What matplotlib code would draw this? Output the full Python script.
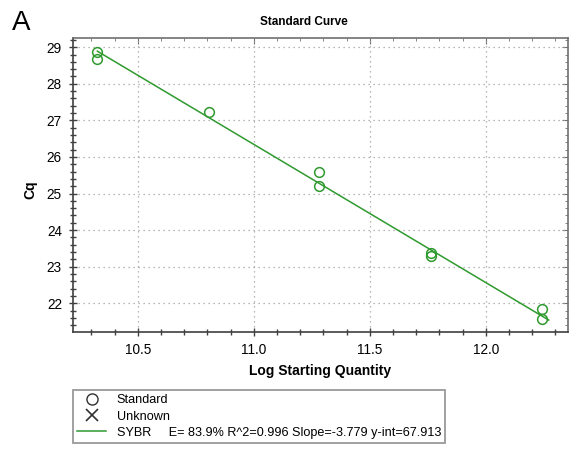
import numpy as np
import matplotlib
matplotlib.use("Agg")
import matplotlib.pyplot as plt
from matplotlib.lines import Line2D
from matplotlib.ticker import MultipleLocator

plt.rcParams['font.family'] = ['Liberation Sans', 'DejaVu Sans']

# standard wells: log starting quantity vs Cq
log_qty = [10.326, 10.326, 10.805, 11.283, 11.283, 11.762, 11.762, 12.241, 12.241]
cq = [28.88, 28.67, 27.24, 25.60, 25.21, 23.38, 23.30, 21.84, 21.56]

# fit reported by the instrument
slope = -3.779
y_int = 67.913
efficiency = 83.9
r2 = 0.996
fit_label = "SYBR     E= %.1f%% R^2=%.3f Slope=%.3f y-int=%.3f" % (efficiency, r2, slope, y_int)

green = '#2f9a2f'
spine_col = '#404040'

W, H = 571, 450
fig = plt.figure(figsize=(W / 100, H / 100), dpi=100)
ax = fig.add_axes([73 / W, 1 - 332 / H, 495 / W, 294.3 / H])

ax.plot(log_qty, cq, 'o', mfc='none', mec=green, ms=7, mew=1.1, zorder=3)
xl = np.array([min(log_qty), max(log_qty) + 0.03])
ax.plot(xl, slope * xl + y_int, color=green, lw=1.1, zorder=2)

ax.set_xlim(10.221, 12.354)
ax.set_ylim(21.215, 29.26)
ax.xaxis.set_major_locator(MultipleLocator(0.5))
ax.xaxis.set_minor_locator(MultipleLocator(0.1))
ax.yaxis.set_major_locator(MultipleLocator(1))
ax.yaxis.set_minor_locator(MultipleLocator(0.2))
ax.xaxis.set_major_formatter(plt.FormatStrFormatter('%.1f'))

ax.grid(True, which='major', color='#a0a0a0', linestyle=(0, (1, 3)), lw=0.9)
ax.tick_params(which='major', direction='inout', length=6, width=1, color=spine_col,
               labelsize=9.8, pad=5)
ax.tick_params(which='minor', direction='inout', length=4, width=1, color=spine_col)
for s in ax.spines.values():
    s.set_color(spine_col)
    s.set_linewidth(1.2)
ax.spines['top'].set_color('#707070')
ax.spines['right'].set_color('#707070')

# inward ticks on top and right
top = ax.secondary_xaxis('top')
top.xaxis.set_major_locator(MultipleLocator(0.5))
top.xaxis.set_minor_locator(MultipleLocator(0.1))
top.tick_params(which='major', direction='in', length=4, color='#707070', labeltop=False)
top.tick_params(which='minor', direction='in', length=2.5, color='#707070')
top.spines['top'].set_visible(False)
right = ax.secondary_yaxis('right')
right.yaxis.set_major_locator(MultipleLocator(1))
right.yaxis.set_minor_locator(MultipleLocator(0.2))
right.tick_params(which='major', direction='in', length=4, color='#707070', labelright=False)
right.tick_params(which='minor', direction='in', length=2.5, color='#707070')
right.spines['right'].set_visible(False)

ax.set_xlabel('Log Starting Quantity', fontsize=10, fontweight='bold', va='center')
ax.xaxis.set_label_coords(0.5, (332 - 371) / 294.3)
ax.set_ylabel('Cq', fontsize=10, fontweight='bold', va='center')
ax.yaxis.set_label_coords((30 - 73) / 495, (332 - 190) / 294.3)

fig.text(303.5 / W, 1 - 22 / H, 'Standard Curve', fontsize=8.5, fontweight='bold',
         ha='center', va='center')
fig.text(12 / W, 1 - 30 / H, 'A', fontsize=20, ha='left', va='baseline')

handles = [
    Line2D([], [], ls='none', marker='o', mfc='none', mec='#303030', ms=8, mew=1),
    Line2D([], [], ls='none', marker='x', color='#303030', ms=9, mew=1.2),
    Line2D([], [], color=green, lw=1.1),
]
leg = fig.legend(handles, ['Standard', 'Unknown', fit_label],
                 loc='upper left', bbox_to_anchor=(73 / W, 1 - 390 / H),
                 borderaxespad=0, fontsize=9.1, frameon=True, fancybox=False,
                 handlelength=2.3, handletextpad=0.8, labelspacing=0.33,
                 borderpad=0.35)
leg.get_frame().set_edgecolor('#808080')
leg.get_frame().set_linewidth(1.3)

fig.savefig('out.png', dpi=100)
